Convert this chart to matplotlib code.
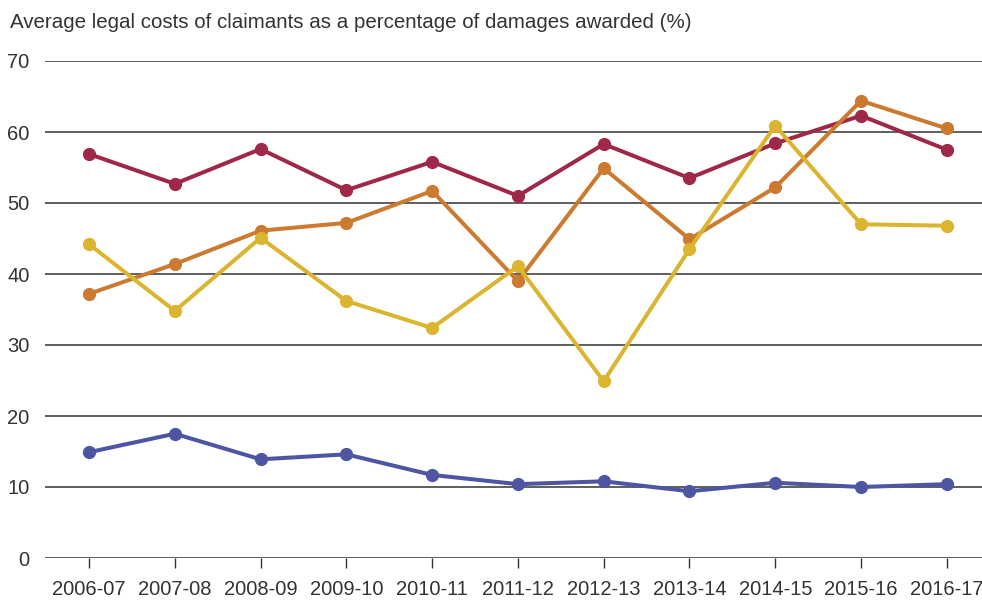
import numpy as np
import matplotlib
matplotlib.use("Agg")
import matplotlib.pyplot as plt

plt.rcParams.update({
    "font.family": ["Liberation Sans", "DejaVu Sans"],
    "font.size": 14.5,
})

years = ["2006-07", "2007-08", "2008-09", "2009-10", "2010-11", "2011-12",
         "2012-13", "2013-14", "2014-15", "2015-16", "2016-17"]

maroon_vals = [56.9, 52.7, 57.6, 51.8, 55.8, 51.0, 58.3, 53.5, 58.4, 62.3, 57.5]
orange_vals = [37.2, 41.4, 46.1, 47.2, 51.7, 39.0, 54.9, 44.9, 52.2, 64.4, 60.5]
yellow_vals = [44.2, 34.8, 45.1, 36.2, 32.4, 41.1, 24.9, 43.5, 60.9, 47.0, 46.8]
blue_vals = [14.9, 17.5, 13.9, 14.6, 11.7, 10.4, 10.8, 9.4, 10.6, 10.0, 10.4]

fig = plt.figure(figsize=(9.82, 6.01), dpi=100)
ax = fig.add_axes([45 / 982, 1 - 558 / 601, 937 / 982, (558 - 61) / 601])

x = np.arange(len(years))
series = [
    (blue_vals, "#4e55a2"),
    (maroon_vals, "#9f2849"),
    (orange_vals, "#cd7a31"),
    (yellow_vals, "#dbb530"),
]
for vals, col in series:
    ax.plot(x, vals, color=col, lw=2.9, marker="o", ms=8.5, zorder=3,
            solid_joinstyle="round")

ax.set_ylim(0, 70)
ax.set_xlim(-0.513, 10.41)
ax.set_yticks(range(0, 71, 10))
ax.set_xticks(x)
ax.set_xticklabels(years)
ax.yaxis.grid(True, color="#333333", lw=1.1)
ax.set_axisbelow(True)
for s in ax.spines.values():
    s.set_visible(False)
ax.tick_params(axis="y", length=0, pad=11, labelcolor="#333333")
ax.tick_params(axis="x", length=7, width=1, color="#333333", pad=9,
               labelcolor="#333333")

# chart title sits above the plot, flush left
fig.text(10 / 982, 1 - 23 / 601, "Average legal costs of claimants as a percentage of damages awarded (%)",
         ha="left", va="center", color="#333333", fontsize=14.8)

fig.savefig("out.png", dpi=100)
